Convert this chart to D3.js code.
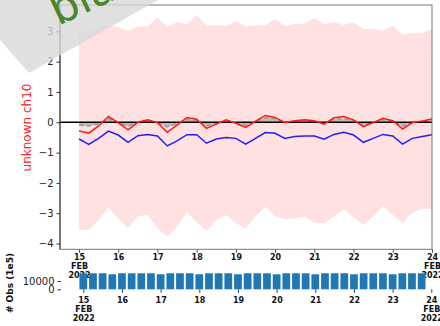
<!DOCTYPE html>
<html><head><meta charset="utf-8">
<script src="https://cdn.jsdelivr.net/npm/d3@7"></script>
<style>body{margin:0;background:#fff}svg{display:block}text{font-family:"DejaVu Sans",sans-serif}</style>
</head><body>
<svg id="chart" width="440" height="326"></svg>
<script>
// Six-hourly analysis times, 15 Feb 2022 00Z .. 24 Feb 2022 00Z
const startTime = "2022-02-15T00:00:00Z";
const stepHours = 6;

// Spread envelope (upper / lower)
const upperBound = [3.02, 2.95, 3.16, 3.21, 3.13, 3.01, 3.16, 3.16, 3.46, 3.16, 3.30, 3.24, 3.52, 3.19, 3.21,
  3.18, 3.34, 3.16, 3.19, 3.19, 3.41, 3.18, 3.24, 3.26, 3.43, 3.24, 3.30, 3.21, 3.30, 3.08, 3.08, 3.02, 3.18,
  2.90, 2.94, 2.94, 3.08];
const lowerBound = [-3.55, -3.55, -3.22, -2.82, -3.17, -3.50, -3.11, -3.04, -3.50, -3.78, -3.45, -2.95, -3.30,
  -3.59, -3.22, -3.06, -3.33, -3.50, -3.11, -2.79, -3.11, -3.20, -3.17, -3.11, -3.31, -3.33, -3.11, -2.87,
  -3.14, -3.37, -3.11, -2.76, -3.06, -3.31, -2.98, -2.84, -2.87];
// Mean departure (red)
const meanValues = [-0.29, -0.36, -0.12, 0.19, -0.01, -0.25, 0.00, 0.08, -0.01, -0.33, -0.09, 0.16, 0.10, -0.20,
  -0.06, 0.08, -0.03, -0.17, 0.04, 0.22, 0.16, -0.01, 0.05, 0.08, 0.05, -0.06, 0.15, 0.19, 0.08, -0.14, -0.01,
  0.13, 0.05, -0.22, -0.01, 0.04, 0.11];
// Bias-corrected departure (grey dashed, shaded to zero)
const correctedValues = [-0.09, -0.12, -0.05, 0.12, -0.02, -0.13, 0.00, 0.05, -0.02, -0.15, -0.05, 0.10, 0.06,
  -0.12, -0.03, 0.05, -0.02, -0.10, 0.02, 0.15, 0.12, -0.01, 0.03, 0.05, 0.03, -0.03, 0.10, 0.12, 0.05, -0.08,
  -0.01, 0.09, 0.03, -0.13, -0.01, 0.02, 0.07];
// Second departure series (blue)
const blueValues = [-0.55, -0.73, -0.53, -0.29, -0.42, -0.66, -0.44, -0.40, -0.45, -0.78, -0.61, -0.41, -0.41,
  -0.69, -0.55, -0.50, -0.53, -0.72, -0.53, -0.34, -0.36, -0.53, -0.47, -0.45, -0.45, -0.56, -0.40, -0.33,
  -0.42, -0.66, -0.53, -0.40, -0.45, -0.72, -0.53, -0.47, -0.41];
// Observation counts per six-hour window
const obsCounts = [19300, 19300, 19300, 18100, 19300, 19300, 19300, 19300, 18100, 19300, 19300, 19300, 18100,
  19300, 19300, 19300, 18100, 19300, 19300, 19300, 18100, 19300, 19300, 19300, 18100, 19300, 19300, 19300,
  18100, 19300, 19300, 19300, 18100, 19300, 19300, 19300];

const yTicks = [-4, -3, -2, -1, 0, 1, 2, 3];
const countTicks = [0, 10000];
const dayTicks = ["2022-02-15","2022-02-16","2022-02-17","2022-02-18","2022-02-19","2022-02-20","2022-02-21","2022-02-22","2022-02-23","2022-02-24"];
const yLabel = "unknown ch10";
const countLabel = "# Obs (1e5)";

const t0 = new Date(startTime);
const times = meanValues.map((_, i) => new Date(+t0 + i * stepHours * 3600e3));
const ticks = dayTicks.map(d => new Date(d + "T00:00:00Z"));
const H = 3600e3;

const svg = d3.select("#chart");

// ---------- upper panel ----------
const P = {l: 60, r: 432, t: 5, b: 249.3};
const x = d3.scaleUtc().domain([new Date(+t0 - 11.63 * H), ticks[ticks.length - 1]]).range([P.l, P.r]);
const y = d3.scaleLinear().domain([-4.19, 3.87]).range([P.b, P.t]);

const g = svg.append("g");
g.append("path")
  .attr("d", d3.area().x((d, i) => x(times[i])).y0((d, i) => y(lowerBound[i])).y1(d => y(d))(upperBound))
  .attr("fill", "#ffe1e1");

g.append("path")
  .attr("d", d3.area().x((d, i) => x(times[i])).y0(y(0)).y1(d => y(d))(correctedValues))
  .attr("fill", "#b0a8a8").attr("fill-opacity", 0.75);
g.append("path")
  .attr("d", d3.line().x((d, i) => x(times[i])).y(d => y(d))(correctedValues))
  .attr("fill", "none").attr("stroke", "#9a9a9a").attr("stroke-width", 1.5).attr("stroke-dasharray", "5,2.5");

g.append("line").attr("x1", P.l).attr("x2", P.r).attr("y1", y(0)).attr("y2", y(0))
  .attr("stroke", "#000").attr("stroke-width", 1.5);

g.append("path")
  .attr("d", d3.line().x((d, i) => x(times[i])).y(d => y(d))(meanValues))
  .attr("fill", "none").attr("stroke", "#ff1a1a").attr("stroke-width", 1.5);
g.append("path")
  .attr("d", d3.line().x((d, i) => x(times[i])).y(d => y(d))(blueValues))
  .attr("fill", "none").attr("stroke", "#1f1fff").attr("stroke-width", 1.5);

// frame
g.append("rect").attr("x", P.l).attr("y", P.t).attr("width", P.r - P.l).attr("height", P.b - P.t)
  .attr("fill", "none").attr("stroke", "#777").attr("stroke-width", 1);
g.append("line").attr("x1", P.l).attr("x2", P.l).attr("y1", P.t).attr("y2", P.b).attr("stroke", "#333");

const yAxis = g.append("g").attr("transform", `translate(${P.l},0)`)
  .call(d3.axisLeft(y).tickValues(yTicks).tickSize(3.5).tickPadding(3).tickFormat(d => d3.format("d")(d).replace("-", "\u2212")));
yAxis.select(".domain").remove();
yAxis.selectAll("line").attr("stroke", "#333");
yAxis.selectAll("text").attr("font-size", 10).attr("fill", "#222").attr("font-family", "DejaVu Sans");

function dateLabels(axisG) {
  axisG.selectAll(".tick text").each(function(d, i) {
    const t = d3.select(this).text("");
    t.append("tspan").attr("x", 0).attr("dy", "0.71em").text(d3.utcFormat("%-d")(d));
    if (i === 0 || i === ticks.length - 1) {
      t.append("tspan").attr("x", 0).attr("dy", "1.12em").text("FEB");
      t.append("tspan").attr("x", 0).attr("dy", "1.12em").text("2022");
    }
  });
  axisG.selectAll("text").attr("font-size", 8).attr("font-weight", "bold").attr("fill", "#111").attr("font-family", "DejaVu Sans");
}

const xAxis = g.append("g").attr("transform", `translate(0,${P.b})`)
  .call(d3.axisBottom(x).tickValues(ticks).tickSize(3.5).tickPadding(2));
xAxis.select(".domain").remove();
xAxis.selectAll("line").attr("stroke", "#555");
dateLabels(xAxis);

g.append("text").attr("transform", `translate(31,127.5) rotate(-90)`).attr("text-anchor", "middle")
  .attr("font-size", 12).attr("fill", "#ff2020").text(yLabel);

// ---------- lower panel (counts) ----------
const B = {l: 61, r: 440, base: 289.3};
const xb = d3.scaleUtc().domain([ticks[0], ticks[ticks.length - 1]]).range([83.3, 431.3]);
const yb = d3.scaleLinear().domain([0, 10000]).range([B.base, B.base - 8.3]);

const bg = svg.append("g");
bg.selectAll("rect.bar").data(obsCounts).join("rect").attr("class", "bar")
  .attr("x", (d, i) => xb(new Date(+times[i] - 2.4 * H)))
  .attr("width", (d, i) => xb(new Date(+times[i] + 2.4 * H)) - xb(new Date(+times[i] - 2.4 * H)))
  .attr("y", d => yb(d)).attr("height", d => yb(0) - yb(d))
  .attr("fill", "#1f77b4");

const ybAxis = bg.append("g").attr("transform", `translate(${B.l},0)`)
  .call(d3.axisLeft(yb).tickValues(countTicks).tickSize(3.5).tickPadding(3).tickFormat(d3.format("d")));
ybAxis.select(".domain").remove();
ybAxis.selectAll("line").attr("stroke", "#333");
ybAxis.selectAll("text").attr("font-size", 10).attr("fill", "#222").attr("font-family", "DejaVu Sans");

const xbAxis = bg.append("g").attr("transform", `translate(0,${B.base})`)
  .call(d3.axisBottom(xb).tickValues(ticks).tickSize(3.5).tickPadding(4.5));
xbAxis.select(".domain").remove();
xbAxis.selectAll("line").attr("stroke", "#333");
dateLabels(xbAxis);

bg.append("text").attr("transform", `translate(13,283) rotate(-90)`).attr("text-anchor", "middle")
  .attr("font-size", 9).attr("font-weight", "bold").attr("fill", "#111").text(countLabel);

// ---------- corner banner ----------
const wm = svg.append("g");
wm.append("polygon").attr("points", "0,0 158,0 29,73 0,40").attr("fill", "#d8d8d8").attr("fill-opacity", 0.8);
wm.append("text").attr("transform", "translate(58,26) rotate(-25)")
  .attr("font-family", "Liberation Serif, DejaVu Serif, serif").attr("font-size", 44)
  .attr("fill", "#4a862a").text("blah");
</script>
</body></html>
